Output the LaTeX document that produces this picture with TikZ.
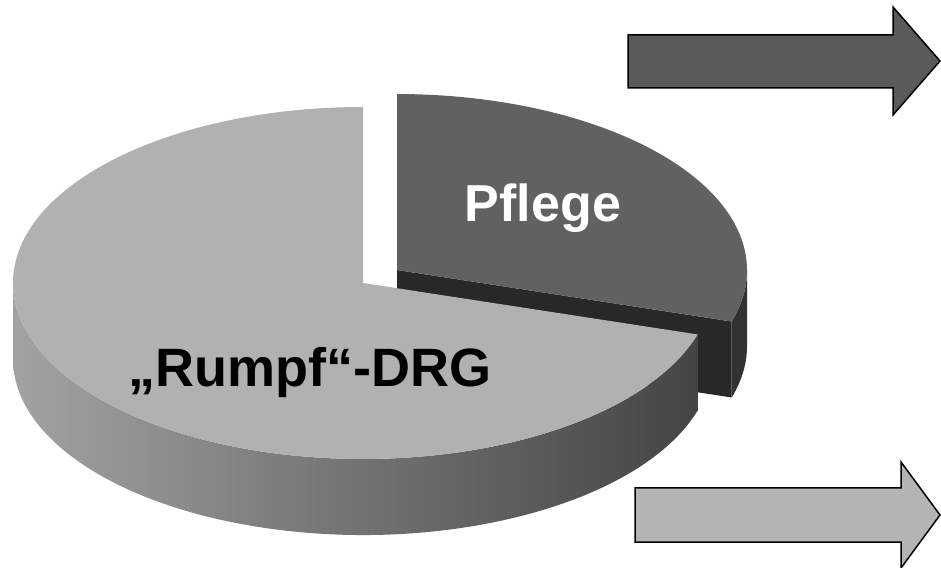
\documentclass[tikz,border=0pt]{standalone}
\usepackage{fontspec}
\setmainfont{Liberation Sans}
\definecolor{bigtop}{HTML}{B1B1B1}
\definecolor{sideleft}{HTML}{A2A2A2}
\definecolor{sideright}{HTML}{444444}
\definecolor{pflegetop}{HTML}{616161}
\definecolor{pflegecut}{HTML}{282828}
\definecolor{pflegerim}{HTML}{323232}
\definecolor{arrowdark}{HTML}{5A5A5A}
\definecolor{arrowlight}{HTML}{B4B4B4}
\tikzset{
  pie/.style={x radius=350, y radius=176},
  bigarrow/.style={draw=black, line width=1.5pt, line join=miter},
  piecaption/.style={font=\bfseries\fontsize{#1}{#1}\selectfont, anchor=base, inner sep=0pt}
}
\begin{document}
\begin{tikzpicture}[x=1pt,y=1pt]
\useasboundingbox (0,0) rectangle (941,567);
\fill[white] (0,0) rectangle (941,567);

% centres of the two slices (the small one is pulled out to the upper right)
\coordinate (cbig) at (363,284);
\coordinate (cpfl) at (397,297);

% --- "Pflege" slice (behind) ---
\fill[pflegecut] (cpfl) -- (731.7,245.5) -- (731.7,169.5) -- ([yshift=-76]cpfl) -- cycle;
\fill[pflegerim] (731.7,245.5) arc[start angle=343, end angle=360, pie]
  -- ++(0,-76) arc[start angle=360, end angle=343, pie] -- cycle;
\fill[pflegetop] (cpfl) -- (731.7,245.5) arc[start angle=343, end angle=450, pie] -- cycle;

% --- large slice ---
\shade[left color=sideleft, right color=sideright]
  (13,284) arc[start angle=180, end angle=343, pie]
  -- ++(0,-76) arc[start angle=343, end angle=180, pie] -- cycle;
\fill[bigtop] (cbig) -- (363,460) arc[start angle=90, end angle=343, pie] -- cycle;

% captions
\node[piecaption=52, text=white] (pflege) at (543,345) {Pflege};
\node[piecaption=54, text=black] (rumpf) at (310,180) {„Rumpf“-DRG};

% arrows on the right
\draw[bigarrow, fill=arrowdark] (628,532) -- (893,532) -- (893,560) -- (940,506)
  -- (893,452) -- (893,479) -- (628,479) -- cycle;
\draw[bigarrow, fill=arrowlight] (635,79) -- (901,79) -- (901,105) -- (940,52)
  -- (901,-1) -- (901,25) -- (635,25) -- cycle;
\end{tikzpicture}
\end{document}
